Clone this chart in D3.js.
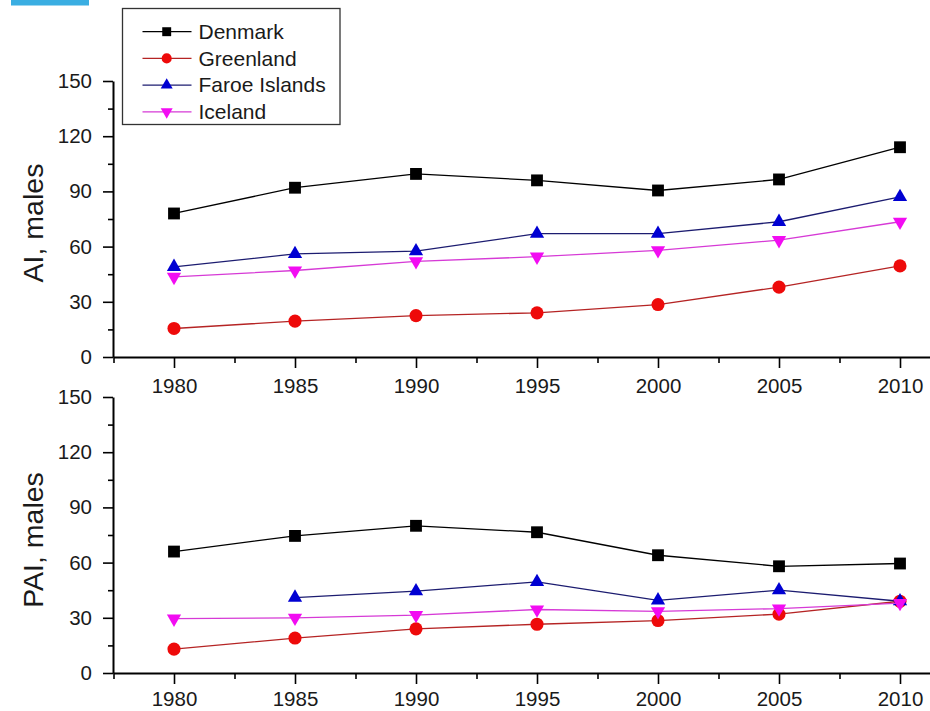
<!DOCTYPE html>
<html>
<head>
<meta charset="utf-8">
<script src="https://cdn.jsdelivr.net/npm/d3@7/dist/d3.min.js"></script>
<style>
  html, body { margin: 0; padding: 0; background: #fff; }
  svg { display: block; }
  text { font-family: "Liberation Sans", Arial, sans-serif; fill: #1a1a1a; }
</style>
</head>
<body>
<svg id="chart" width="930" height="711"></svg>
<script>
// Survey years shared by both panels
const years = [1980, 1985, 1990, 1995, 2000, 2005, 2010];
const countries = ["Denmark", "Greenland", "Faroe Islands", "Iceland"];

// AI, males (upper panel)
const aiDenmark   = [78, 92, 99.5, 96, 90.5, 96.5, 114];
const aiGreenland = [15.5, 19.5, 22.5, 24, 28.5, 38, 49.5];
const aiFaroe     = [49, 56, 57.5, 67, 67, 73.5, 87];
const aiIceland   = [43.5, 47, 52, 54.5, 58, 63.5, 73.5];

// PAI, males (lower panel); no Faroe value for 1980
const paiDenmark   = [66, 74.5, 80, 76.5, 64, 58, 59.5];
const paiGreenland = [13, 19, 24, 26.5, 28.5, 32, 39];
const paiFaroe     = [null, 41, 44.5, 49.5, 39.5, 45, 39];
const paiIceland   = [29.5, 30, 31.5, 34.5, 33.5, 35, 38];

const yMajorTicks = [0, 30, 60, 90, 120, 150];
const yMinorTicks = [15, 45, 75, 105, 135];
const xMinorTicks = [1977.5, 1982.5, 1987.5, 1992.5, 1997.5, 2002.5, 2007.5, 2012.5];

const styles = {
  "Denmark":       { line: "#000000", fill: "#000000", symbol: d3.symbolSquare,   size: 140, legendSize: 80, rot: 0 },
  "Greenland":     { line: "#b52424", fill: "#ee0a0a", symbol: d3.symbolCircle,   size: 135, legendSize: 80, rot: 0 },
  "Faroe Islands": { line: "#1c1c70", fill: "#0000d2", symbol: d3.symbolTriangle, size: 88,  legendSize: 62, rot: 0 },
  "Iceland":       { line: "#d63ad6", fill: "#f20cf2", symbol: d3.symbolTriangle, size: 88,  legendSize: 62, rot: 180 }
};

const svg = d3.select("#chart");

// small header tab in the corner
svg.append("rect").attr("x", 11).attr("y", 0).attr("width", 78).attr("height", 5.5).attr("fill", "#3aaee2");

const x = d3.scaleLinear().domain([1977.5, 2012.5]).range([113.5, 960.5]);

function drawPanel(top, bottom, label, labelY, series, labelPad) {
  const y = d3.scaleLinear().domain([0, 150]).range([bottom, top]);
  const g = svg.append("g");

  // x axis: major ticks with labels, then minor ticks
  g.append("g").attr("transform", `translate(0,${bottom})`)
    .call(d3.axisBottom(x).tickValues(years).tickFormat(d3.format("d")).tickSize(11).tickPadding(labelPad).tickSizeOuter(0));
  g.append("g").attr("transform", `translate(0,${bottom})`)
    .call(d3.axisBottom(x).tickValues(xMinorTicks).tickFormat("").tickSize(6).tickSizeOuter(0))
    .select(".domain").remove();

  // y axis
  g.append("g").attr("transform", "translate(113,0)")
    .call(d3.axisLeft(y).tickValues(yMajorTicks).tickSize(10).tickPadding(11).tickSizeOuter(0));
  g.append("g").attr("transform", "translate(113,0)")
    .call(d3.axisLeft(y).tickValues(yMinorTicks).tickFormat("").tickSize(5).tickSizeOuter(0))
    .select(".domain").remove();

  g.selectAll(".domain").attr("stroke", "#000").attr("stroke-width", 2);
  g.selectAll(".tick line").attr("stroke", "#000").attr("stroke-width", 1.6);
  g.selectAll(".tick text").attr("font-size", 20.5).attr("fill", "#1a1a1a")
    .attr("font-family", '"Liberation Sans", Arial, sans-serif');

  g.append("text")
    .attr("transform", `translate(43,${labelY}) rotate(-90)`)
    .attr("text-anchor", "middle")
    .attr("font-size", 28.5)
    .text(label);

  const line = d3.line()
    .defined(d => d.v !== null)
    .x(d => x(d.year))
    .y(d => y(d.v));

  series.forEach(([name, values]) => {
    const st = styles[name];
    const pts = years.map((year, i) => ({ year, v: values[i] }));
    g.append("path").datum(pts)
      .attr("fill", "none")
      .attr("stroke", st.line)
      .attr("stroke-width", 1.3)
      .attr("d", line);
    g.selectAll(null).data(pts.filter(d => d.v !== null)).join("path")
      .attr("transform", d => `translate(${x(d.year)},${y(d.v)}) rotate(${st.rot})`)
      .attr("d", d3.symbol().type(st.symbol).size(st.size))
      .attr("fill", st.fill);
  });
}

drawPanel(81, 357, "AI, males", 223, [
  ["Denmark", aiDenmark], ["Greenland", aiGreenland], ["Faroe Islands", aiFaroe], ["Iceland", aiIceland]
], 10);
drawPanel(397, 673, "PAI, males", 540, [
  ["Denmark", paiDenmark], ["Greenland", paiGreenland], ["Faroe Islands", paiFaroe], ["Iceland", paiIceland]
], 7.5);

// legend
const legend = svg.append("g");
legend.append("rect")
  .attr("x", 122.5).attr("y", 8.5).attr("width", 217.5).attr("height", 116)
  .attr("fill", "#fff").attr("stroke", "#333").attr("stroke-width", 1.3);
countries.forEach((name, i) => {
  const st = styles[name];
  const cy = 31.7 + i * 26.7;
  legend.append("line").attr("x1", 142.5).attr("x2", 191.5).attr("y1", cy).attr("y2", cy)
    .attr("stroke", st.line).attr("stroke-width", 1.3);
  legend.append("path")
    .attr("transform", `translate(166.7,${cy}) rotate(${st.rot})`)
    .attr("d", d3.symbol().type(st.symbol).size(st.legendSize))
    .attr("fill", st.fill);
  legend.append("text").attr("x", 198.5).attr("y", cy).attr("dy", "0.35em")
    .attr("font-size", 21).text(name);
});
</script>
</body>
</html>
